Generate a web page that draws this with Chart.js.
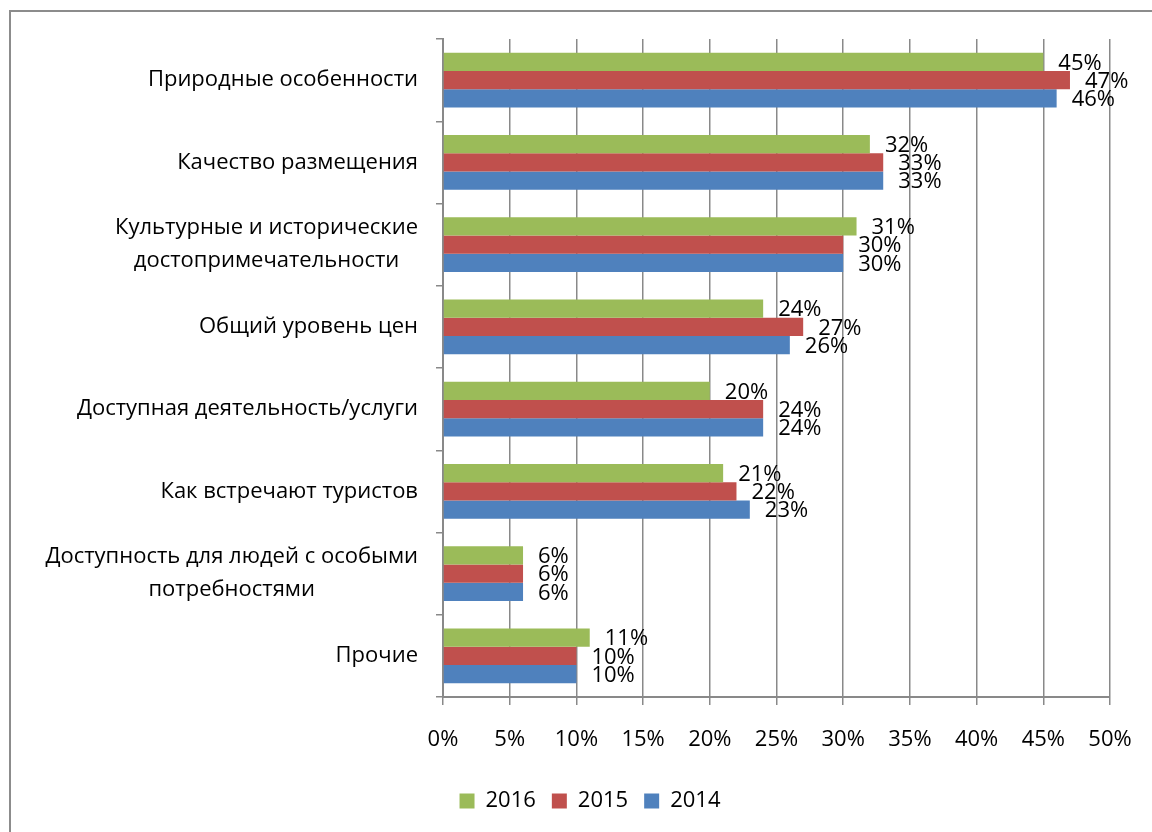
<!DOCTYPE html>
<html lang="ru">
<head>
<meta charset="UTF-8">
<title>Факторы</title>
<script src="https://cdn.jsdelivr.net/npm/chart.js"></script>
<style>
  html, body { margin: 0; padding: 0; background: #fff; }
  #wrap { position: relative; width: 1152px; height: 832px; }
</style>
</head>
<body>
<div id="wrap">
  <canvas id="grafico" width="1152" height="832"></canvas>
</div>

<script>
  // categorias (linhas do eixo y)
  const categorias = [
    ['Природные особенности'],
    ['Качество размещения'],
    ['Культурные и исторические', 'достопримечательности'],
    ['Общий уровень цен'],
    ['Доступная деятельность/услуги'],
    ['Как встречают туристов'],
    ['Доступность для людей с особыми', 'потребностями'],
    ['Прочие']
  ];
  const anos = ['2016', '2015', '2014'];
  const valores2016 = [45, 32, 31, 24, 20, 21, 6, 11];
  const valores2015 = [47, 33, 30, 27, 24, 22, 6, 10];
  const valores2014 = [46, 33, 30, 26, 24, 23, 6, 10];
  const ticksX = [0, 5, 10, 15, 20, 25, 30, 35, 40, 45, 50];

  const fonte = "'Open Sans', 'Noto Sans', sans-serif";
  const tamanho = 22;
  const cinza = '#898989';

  // moldura cinza (topo e esquerda)
  const moldura = {
    id: 'moldura',
    beforeDraw(chart) {
      const ctx = chart.ctx;
      ctx.save();
      ctx.strokeStyle = '#8c8c8c';
      ctx.lineWidth = 2;
      ctx.beginPath();
      ctx.moveTo(10, 832);
      ctx.lineTo(10, 11);
      ctx.lineTo(1152, 11);
      ctx.stroke();
      ctx.restore();
    }
  };

  // rotulos do eixo y, linhas centralizadas, bloco alinhado a direita
  const rotulosY = {
    id: 'rotulosY',
    afterDraw(chart) {
      const ctx = chart.ctx;
      const y = chart.scales.y;
      const direita = chart.chartArea.left - 25;
      ctx.save();
      ctx.font = tamanho + 'px ' + fonte;
      ctx.fillStyle = '#000';
      ctx.textAlign = 'center';
      ctx.textBaseline = 'middle';
      categorias.forEach(function (linhas, i) {
        const centro = y.getPixelForValue(i);
        let largura = 0;
        linhas.forEach(function (l) { largura = Math.max(largura, ctx.measureText(l).width); });
        const x = direita - largura / 2;
        const alturaLinha = 33;
        const inicio = centro - (linhas.length - 1) * alturaLinha / 2;
        linhas.forEach(function (l, k) {
          ctx.fillText(l, x, inicio + k * alturaLinha);
        });
      });
      ctx.restore();
    }
  };

  // valores ao lado das barras
  const rotulosBarras = {
    id: 'rotulosBarras',
    afterDatasetsDraw(chart) {
      const ctx = chart.ctx;
      ctx.save();
      ctx.font = tamanho + 'px ' + fonte;
      ctx.fillStyle = '#000';
      ctx.textAlign = 'left';
      ctx.textBaseline = 'middle';
      chart.data.datasets.forEach(function (ds, d) {
        chart.getDatasetMeta(d).data.forEach(function (barra, i) {
          ctx.fillText(ds.data[i] + '%', barra.x + 15, barra.y + 1.5);
        });
      });
      ctx.restore();
    }
  };

  const dados = {
    labels: categorias.map(function (c) { return c.join(' '); }),
    datasets: [
      { label: anos[0], data: valores2016, backgroundColor: '#9BBB59' },
      { label: anos[1], data: valores2015, backgroundColor: '#C0504D' },
      { label: anos[2], data: valores2014, backgroundColor: '#4F81BD' }
    ]
  };

  const config = {
    type: 'bar',
    data: dados,
    options: {
      indexAxis: 'y',
      responsive: false,
      animation: false,
      datasets: { bar: { categoryPercentage: 0.663, barPercentage: 1 } },
      layout: { padding: { top: 39, right: 0, left: 28, bottom: 10 } },
      plugins: {
        tooltip: { enabled: false },
        legend: {
          position: 'bottom',
          labels: {
            boxWidth: 15,
            boxHeight: 15,
            padding: 16,
            color: '#000',
            font: { family: fonte, size: tamanho }
          }
        }
      },
      scales: {
        x: {
          min: 0,
          max: 50,
          afterBuildTicks(scale) {
            scale.ticks = ticksX.map(function (v) { return { value: v }; });
          },
          afterFit(scale) {
            scale.height = 77;
            scale.paddingRight = 42;
          },
          grid: { color: cinza, lineWidth: 1.5, tickLength: 8, drawTicks: true },
          border: { color: cinza, width: 2 },
          ticks: {
            color: '#000',
            padding: 22,
            font: { family: fonte, size: tamanho },
            callback: function (v) { return v + '%'; }
          }
        },
        y: {
          afterFit(scale) { scale.width = 443 - 28; },
          grid: { drawOnChartArea: false, drawTicks: true, tickLength: 7, color: cinza, lineWidth: 1.5, offset: true },
          border: { color: cinza, width: 2 },
          ticks: { display: false }
        }
      }
    },
    plugins: [moldura, rotulosY, rotulosBarras]
  };

  new Chart(document.getElementById('grafico'), config);
</script>
</body>
</html>
